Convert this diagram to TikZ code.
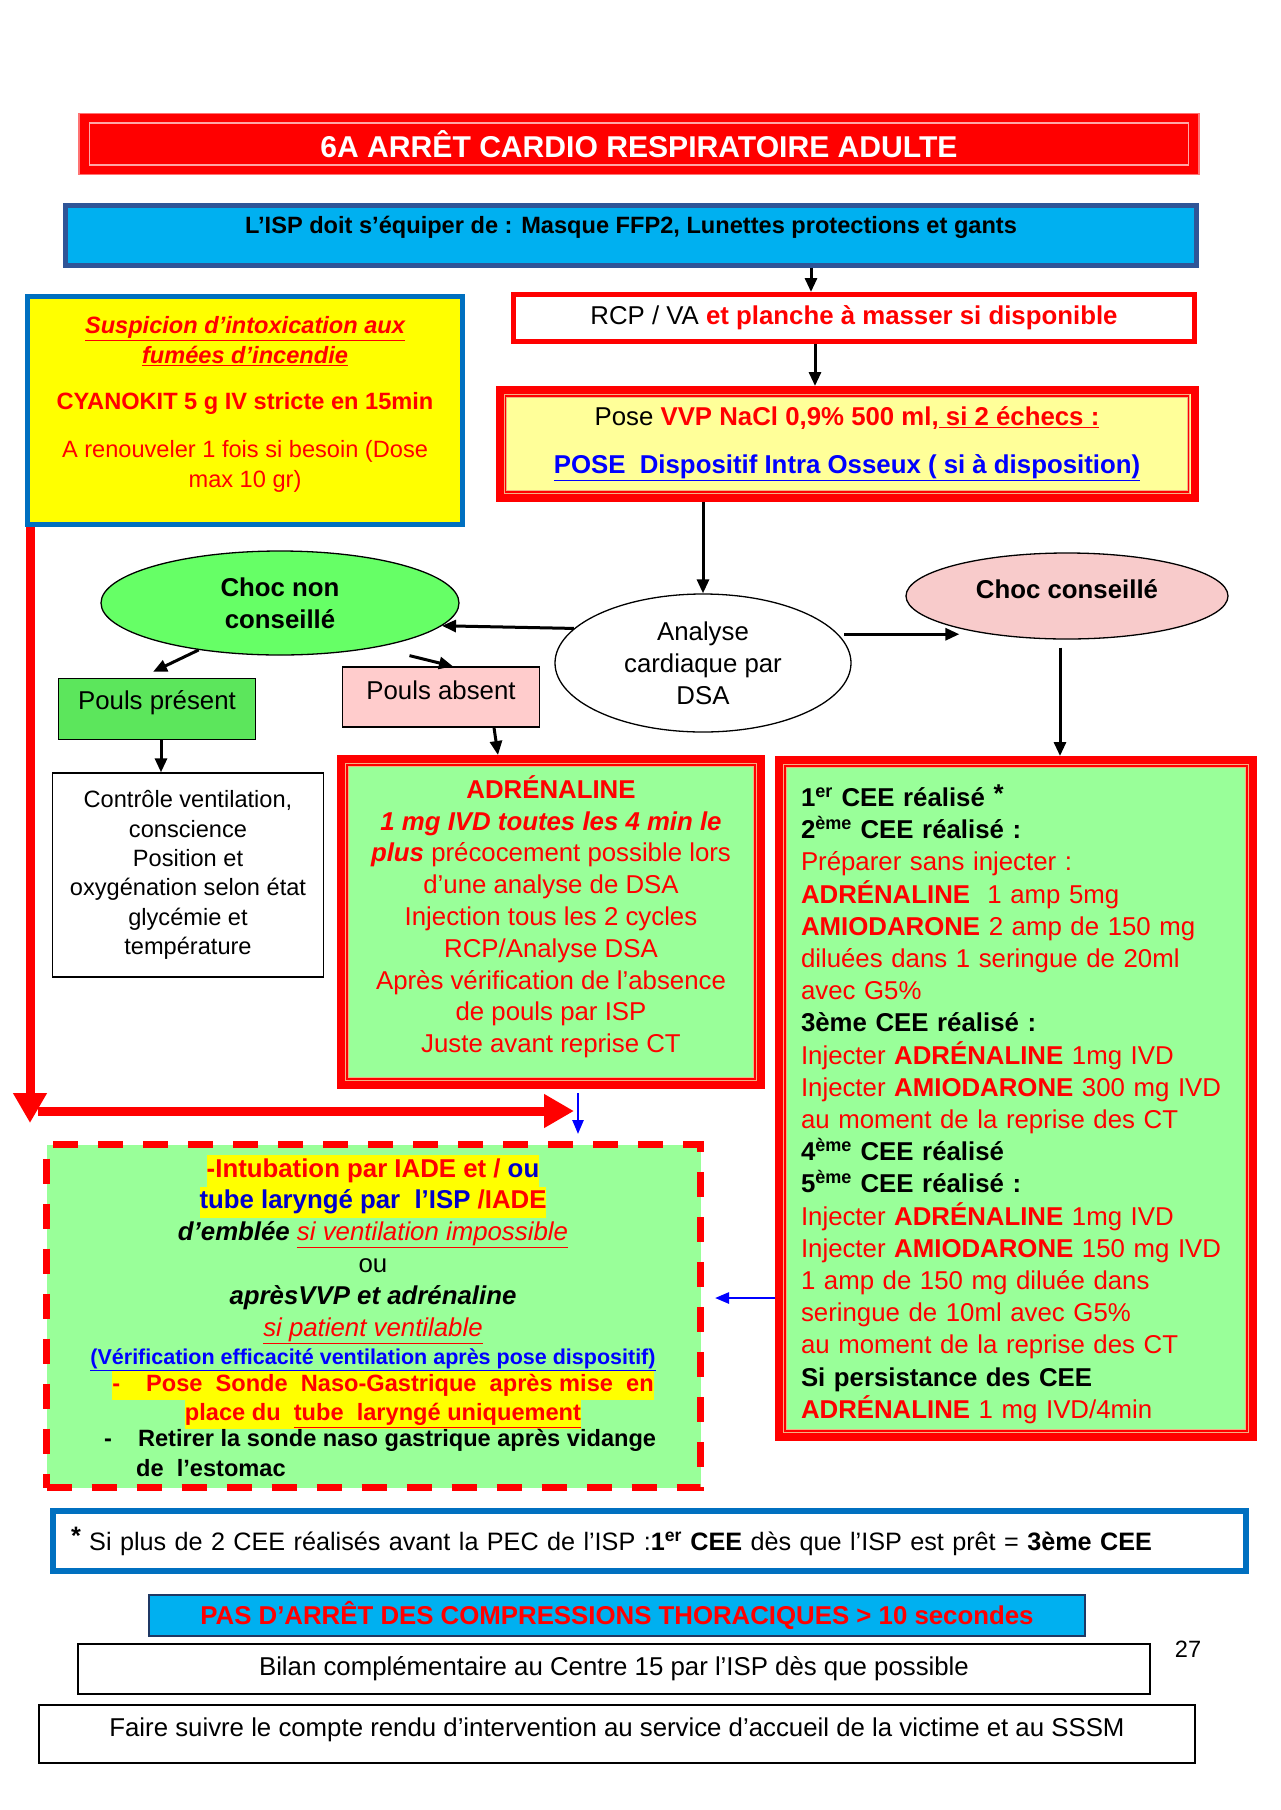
\documentclass[tikz,border=0pt]{standalone}
\usepackage{fontspec}
\setmainfont{Liberation Sans}
\usetikzlibrary{positioning,shapes.geometric,arrows.meta}

\definecolor{rougevif}{HTML}{FF0000}
\definecolor{cyanbleu}{HTML}{00B0F0}
\definecolor{bleucadre}{HTML}{2F5597}
\definecolor{bleuvif}{HTML}{0070C0}
\definecolor{bleunuit}{HTML}{1F3864}
\definecolor{bleutexte}{HTML}{0000FF}
\definecolor{bleuf}{HTML}{0000CC}
\definecolor{jaune}{HTML}{FFFF00}
\definecolor{jaunepale}{HTML}{FFFF99}
\definecolor{vertellipse}{HTML}{66FF66}
\definecolor{vertpouls}{HTML}{5CE65C}
\definecolor{vertpale}{HTML}{99FF99}
\definecolor{rose}{HTML}{F8CBCB}
\definecolor{roseclair}{HTML}{FFCCCC}
\definecolor{ocre}{HTML}{F4B183}

\newcommand{\taillequatorze}{\fontsize{30.1}{34.6}\selectfont}
\newcommand{\tailledouze}{\fontsize{25.8}{31.8}\selectfont}
\newcommand{\tailleonze}{\fontsize{23.6}{29.4}\selectfont}
\newcommand{\tailledix}{\fontsize{21.5}{25}\selectfont}
\newcommand{\surligne}[1]{{\setlength{\fboxsep}{0pt}\colorbox{jaune}{\strut #1}}}
\newcommand{\etape}[1]{\textcolor{black}{\bfseries #1}}

\tikzstyle{CadreTitre}=[rectangle, fill=rougevif, draw=red!55!white, line width=1.2, inner sep=0, font=\taillequatorze\bfseries, text=white]
\tikzstyle{CadreBleu}=[rectangle, fill=cyanbleu, draw=bleucadre, line width=5, inner sep=0, font=\tailleonze\bfseries]
\tikzstyle{CadreRouge}=[rectangle, fill=white, draw=rougevif, line width=5, inner sep=0, font=\tailledouze]
\tikzstyle{CadreDouble}=[rectangle, draw=rougevif, line width=8, inner sep=0, font=\tailledouze, align=center]
\tikzstyle{Filet}=[draw=ocre, double=rougevif, line width=1.2, double distance=1.2]
\tikzstyle{Simple}=[rectangle, draw=black, line width=1.3, inner sep=0, font=\tailledouze, align=center]
\tikzstyle{Bulle}=[ellipse, draw=black, line width=1.3, inner sep=0, font=\tailledouze, align=center]
\tikzstyle{Fleche}=[-{Triangle[length=14pt,width=12pt]}, line width=3]
\tikzstyle{FlecheRouge}=[-{Triangle[length=30pt,width=32pt]}, draw=rougevif, line width=9]
\tikzstyle{FlecheBleue}=[-{Triangle[length=14pt,width=11pt]}, draw=bleutexte, line width=2.5]

\begin{document}
\begin{tikzpicture}[x=1pt, y=-1pt]
	\fill[white] (0,0) rectangle (1280,1810);
	\useasboundingbox (0,0) rectangle (1280,1810);

	%Entete
	\node[CadreTitre, minimum width=1120, minimum height=61]	(titre)	at (639,144)	{6A ARRÊT CARDIO RESPIRATOIRE ADULTE};
	\draw[white!65!red, line width=1.5] ([shift={(11,10)}]titre.north west) rectangle ([shift={(-11,-10)}]titre.south east);

	\node[CadreBleu, minimum width=1131, minimum height=60, text depth=21]	(equip)	at (631,235)	{L’ISP doit s’équiper de : Masque FFP2, Lunettes protections et gants};

	%Colonne de droite
	\node[CadreRouge, minimum width=681, minimum height=47]	(rcp)	at (854,318)	{RCP / VA \textcolor{rougevif}{\bfseries et planche à masser si disponible}};

	\node[CadreDouble, fill=jaunepale, minimum width=695, minimum height=108]	(vvp)	at (847,444)
		{Pose \textcolor{rougevif}{\bfseries VVP NaCl 0,9\% 500 ml,\underline{ si 2 échecs :}}\\[16pt]
		 \textcolor{bleutexte}{\bfseries\underline{POSE\ \ Dispositif Intra Osseux ( si à disposition)}}};

	%Cyanokit
	\node[rectangle, fill=jaune, draw=bleuvif, line width=5, minimum width=435, minimum height=228, inner sep=0, align=center, font=\tailleonze, text=rougevif, text depth=17]	(cyano)	at (245,410.5)
		{\textbf{\textit{\underline{Suspicion d’intoxication aux}}}\\
		 \textbf{\textit{\underline{fumées d’incendie}}}\\[17pt]
		 \textbf{CYANOKIT 5 g IV stricte en 15min}\\[19pt]
		 A renouveler 1 fois si besoin (Dose\\
		 max 10 gr)};

	%Analyse
	\node[Bulle, fill=white, minimum width=296, minimum height=138]	(analyse)	at (703,663)	{Analyse\\cardiaque par\\DSA};
	\node[Bulle, fill=vertellipse, minimum width=358, minimum height=104, font=\tailledouze\bfseries]	(chocnon)	at (280,603)	{Choc non\\conseillé};
	\node[Bulle, fill=rose, minimum width=322, minimum height=86, font=\tailledouze\bfseries, text depth=14]	(chocc)	at (1067,596)	{Choc conseillé};

	\node[Simple, fill=vertpouls, minimum width=197, minimum height=61, text depth=19]	(poulsp)	at (157,709)	{Pouls présent};
	\node[Simple, fill=roseclair, minimum width=197, minimum height=60, text depth=14]	(poulsa)	at (441,697)	{Pouls absent};

	\node[Simple, fill=white, minimum width=271, minimum height=204, font=\tailleonze]	(controle)	at (188,875)
		{Contrôle ventilation,\\conscience\\Position et\\oxygénation selon état\\glycémie et\\température};

	\node[CadreDouble, fill=vertpale, minimum width=420, minimum height=326, text=rougevif, text depth=16]	(adr)	at (551,922)
		{\textbf{ADRÉNALINE}\\
		 \textbf{\textit{1 mg IVD toutes les 4 min le}}\\
		 \textbf{\textit{plus}} précocement possible lors\\
		 d’une analyse de DSA\\
		 Injection tous les 2 cycles\\
		 RCP/Analyse DSA\\
		 Après vérification de l’absence\\
		 de pouls par ISP\\
		 Juste avant reprise CT};

	\node[CadreDouble, fill=vertpale, minimum width=474, minimum height=677, text=rougevif, text width=430, align=left, text height=33, font=\fontsize{25.8}{32.2}\selectfont]	(cee)	at (1016,1098.5)
		{\etape{1\textsuperscript{er} CEE réalisé \raisebox{4pt}{*}}\\
		 \etape{2\textsuperscript{ème} CEE réalisé :}\\
		 Préparer sans injecter :\\
		 \textbf{ADRÉNALINE}\ \ 1 amp 5mg\\
		 \textbf{AMIODARONE} 2 amp de 150 mg\\
		 diluées dans 1 seringue de 20ml\\
		 avec G5\%\\
		 \etape{3ème CEE réalisé :}\\
		 Injecter \textbf{ADRÉNALINE} 1mg IVD\\
		 Injecter \textbf{AMIODARONE} 300 mg IVD\\
		 au moment de la reprise des CT\\
		 \etape{4\textsuperscript{ème} CEE réalisé}\\
		 \etape{5\textsuperscript{ème} CEE réalisé :}\\
		 Injecter \textbf{ADRÉNALINE} 1mg IVD\\
		 Injecter \textbf{AMIODARONE} 150 mg IVD\\
		 1 amp de 150 mg diluée dans\\
		 seringue de 10ml avec G5\%\\
		 au moment de la reprise des CT\\
		 \etape{Si persistance des CEE}\\
		 \textbf{ADRÉNALINE} 1 mg IVD/4min};

	\foreach \n in {vvp,adr,cee}
		\draw[Filet] ([shift={(10,10)}]\n.north west) rectangle ([shift={(-10,-10)}]\n.south east);

	%Ventilation
	\node[rectangle, fill=vertpale, draw=rougevif, line width=7, dash pattern=on 25pt off 20pt, minimum width=654, minimum height=343]	(ventil)	at (373.5,1316)	{};
	\node[font=\tailledouze, align=center, inner sep=0]	(intub)	at (373,1263)
		{\surligne{\textbf{\textcolor{rougevif}{-Intubation par IADE et / }\textcolor{bleuf}{ou}}}\\
		 \surligne{\textbf{\textcolor{bleuf}{tube laryngé par\ \ l’ISP }\textcolor{rougevif}{/IADE}}}\\
		 \textbf{\textit{d’emblée}} \textcolor{rougevif}{\textit{\underline{si ventilation impossible}}}\\
		 ou\\
		 \textbf{\textit{aprèsVVP et adrénaline}}\\
		 \textcolor{rougevif}{\textit{\underline{si patient ventilable}}}\\[-3pt]
		 {\tailledix\textbf{\textcolor{bleutexte}{\underline{(Vérification efficacité ventilation après pose dispositif)}}}}};
	\node[font=\tailleonze\bfseries, text=rougevif, align=center, inner sep=0]	(sonde)	at (383,1400)
		{\surligne{-\hspace{26pt}Pose\ \ Sonde\ \ Naso-Gastrique\ \ après mise\ \ en}\\
		 \surligne{place du\ \ \underline{tube\ \ laryngé uniquement}}};
	\node[font=\tailleonze\bfseries, align=left, inner sep=0, anchor=west]	(retrait)	at (104,1453)
		{-\hspace{26pt}Retirer la sonde naso gastrique après vidange\\
		 \hspace*{32pt}de\ \ l’estomac};

	%Bas de page
	\node[rectangle, draw=bleuvif, line width=6, fill=white, minimum height=60, inner sep=0, inner xsep=18, text width=1157, align=left, font=\fontsize{25.2}{31}\selectfont]	(renvoi)	at (649.5,1541)
		{\raisebox{6pt}{\textbf{*}} Si plus de 2 CEE réalisés avant la PEC de l’ISP :\textbf{1\textsuperscript{er} CEE} dès que l’ISP est prêt = \textbf{3ème CEE}};
	\node[rectangle, fill=cyanbleu, draw=bleunuit, line width=2, minimum width=936, minimum height=41, inner sep=0, font=\tailledouze\bfseries, text=rougevif]	(pause)	at (617,1615.5)
		{PAS D’ARRÊT DES COMPRESSIONS THORACIQUES > 10 secondes};
	\node[Simple, minimum width=1072, minimum height=50]	(bilan)	at (614,1669)	{Bilan complémentaire au Centre 15 par l’ISP dès que possible};
	\node[Simple, minimum width=1156, minimum height=58, text depth=13]	(suivi)	at (617,1734)	{Faire suivre le compte rendu d’intervention au service d’accueil de la victime et au SSSM};
	\node[font=\tailleonze]	(page)	at (1188,1649)	{27};

	%Fleches
	\draw[Fleche] ([xshift=-43]rcp.north |- equip.south) -- ([xshift=-43]rcp.north);
	\draw[Fleche] ([xshift=-39]rcp.south) -- ([xshift=-39]rcp.south |- vvp.north);
	\draw[Fleche] (analyse.north |- vvp.south) -- (analyse.north);
	\draw[Fleche] (analyse.165) -- (chocnon.-8);
	\draw[Fleche] ([xshift=6]analyse.12) -- ([xshift=54]analyse.12 -| chocc.west);
	\draw[Fleche] ([shift={(-7,8)}]chocc.south) -- ([xshift=-7]chocc.south |- cee.north);
	\draw[Fleche] (chocnon.210) -- ([shift={(-4,-6)}]poulsp.north);
	\draw[Fleche] ([shift={(24,10)}]chocnon.-22) -- ([xshift=12]poulsa.north);
	\draw[Fleche] ([xshift=4]poulsp.south) -- ([xshift=4]poulsp.south |- controle.north);
	\draw[Fleche] ([xshift=53]poulsa.south) -- ([xshift=57]poulsa.south |- adr.north);

	%Grosse fleche rouge
	\coordinate (descente) at (30,1123);
	\coordinate (virage) at (38,1111);
	\coordinate (arrivee) at (574,1111);
	\draw[FlecheRouge] (cyano.south west -| descente) -- (descente);
	\draw[FlecheRouge] (virage) -- (arrivee);

	%Fleches bleues
	\draw[FlecheBleue] ([xshift=27,yshift=-4]adr.south) -- ([xshift=27,yshift=7]adr.south |- ventil.north);
	\coordinate (bleufin) at ([shift={(11,-18)}]ventil.east);
	\draw[FlecheBleue] (cee.west |- bleufin) -- (bleufin);

\end{tikzpicture}
\end{document}
